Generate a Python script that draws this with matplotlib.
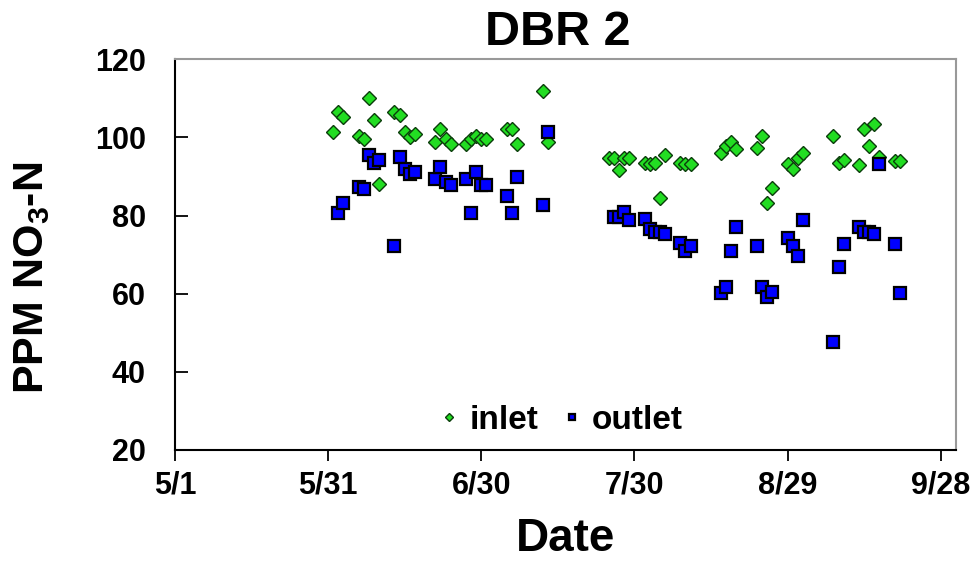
import matplotlib
matplotlib.use('Agg')
import matplotlib.pyplot as plt
import pandas as pd

YEAR = '2001'

inlet_dates = ['6/1', '6/2', '6/3', '6/6', '6/7', '6/8', '6/9', '6/10', '6/13', '6/14',
               '6/15', '6/16', '6/17', '6/21', '6/22', '6/23', '6/24', '6/27', '6/28', '6/29',
               '6/30', '7/1', '7/5', '7/6', '7/7', '7/12', '7/13',
               '7/25', '7/26', '7/27', '7/28', '7/29', '8/1', '8/2', '8/3', '8/4', '8/5',
               '8/8', '8/9', '8/10', '8/16', '8/17', '8/18', '8/19', '8/23', '8/24', '8/25',
               '8/26', '8/29', '8/30', '8/31', '9/1', '9/7', '9/8', '9/9', '9/12', '9/13',
               '9/14', '9/15', '9/16', '9/19', '9/20']
inlet_ppm = [101.5, 106.4, 105.2, 100.4, 99.6, 110.2, 104.5, 88.1, 106.4, 105.7,
             101.5, 100.2, 100.9, 98.9, 102.1, 99.6, 98.3, 98.3, 99.6, 100.4,
             99.6, 99.6, 102.1, 102.1, 98.3, 112.0, 98.9,
             94.7, 94.7, 91.7, 94.7, 94.7, 93.5, 93.1, 93.5, 84.4, 95.5,
             93.5, 93.1, 93.1, 95.9, 97.8, 98.9, 97.0, 97.2, 100.4, 83.3,
             87.1, 93.1, 91.8, 94.7, 95.9, 100.4, 93.4, 94.2, 93.0, 102.1,
             97.9, 103.4, 94.9, 94.0, 94.0]

outlet_dates = ['6/2', '6/3', '6/6', '6/7', '6/8', '6/9', '6/10', '6/13', '6/14', '6/15',
                '6/16', '6/17', '6/21', '6/22', '6/23', '6/24', '6/27', '6/28', '6/29', '6/30',
                '7/1', '7/5', '7/6', '7/7', '7/12', '7/13',
                '7/26', '7/27', '7/28', '7/29', '8/1', '8/2', '8/3', '8/4', '8/5', '8/8',
                '8/9', '8/10', '8/16', '8/17', '8/18', '8/19', '8/23', '8/24', '8/25', '8/26',
                '8/29', '8/30', '8/31', '9/1', '9/7', '9/8', '9/9', '9/12', '9/13', '9/14',
                '9/15', '9/16', '9/19', '9/20']
outlet_ppm = [80.6, 83.3, 87.2, 86.7, 95.5, 93.5, 94.2, 72.2, 94.9, 91.8,
              90.6, 91.2, 89.4, 92.4, 88.7, 87.7, 89.4, 80.7, 91.2, 87.7,
              87.7, 85.1, 80.7, 90.0, 82.7, 101.5,
              79.6, 79.6, 81.0, 78.9, 79.1, 76.5, 75.9, 75.9, 75.3, 72.9,
              71.0, 72.2, 60.3, 61.8, 71.0, 77.2, 72.2, 61.8, 59.2, 60.5,
              74.2, 72.2, 69.7, 78.9, 47.6, 66.8, 72.7, 77.2, 75.9, 75.9,
              75.3, 93.1, 72.7, 60.1]

tick_dates = ['5/1', '5/31', '6/30', '7/30', '8/29', '9/28']


def to_dt(days):
    return pd.to_datetime([YEAR + '/' + d for d in days], format='%Y/%m/%d')


plt.rcParams['font.family'] = ['Liberation Sans', 'DejaVu Sans']
plt.rcParams['mathtext.fontset'] = 'custom'
plt.rcParams['mathtext.bf'] = 'Liberation Sans:bold'

fig = plt.figure(figsize=(9.77, 5.61), dpi=100)
ax = fig.add_axes([0.1791, 0.1979, 0.7994, 0.6964])

ax.plot(to_dt(inlet_dates), inlet_ppm, linestyle='none', marker='D', markersize=7.2,
        markerfacecolor='#22dd22', markeredgecolor='#0b3d0b', markeredgewidth=1.0,
        label='inlet')
ax.plot(to_dt(outlet_dates), outlet_ppm, linestyle='none', marker='s', markersize=8,
        markerfacecolor='#0000ff', markeredgecolor='black', markeredgewidth=1.6,
        label='outlet')

ticks = to_dt(tick_dates)
ax.set_xlim(ticks[0], ticks[0] + pd.Timedelta(days=153))
ax.set_xticks(ticks)
ax.set_xticklabels(tick_dates, fontweight='bold')
ax.set_ylim(20, 120)
ax.set_yticks(range(20, 121, 20))
ax.set_yticklabels([str(v) for v in range(20, 121, 20)], fontweight='bold')

ax.tick_params(axis='x', direction='out', length=8, width=1.3, labelsize=22, pad=7)
ax.tick_params(axis='y', direction='in', length=9, width=1.3, labelsize=22, pad=21)
for s in ['left', 'bottom']:
    ax.spines[s].set_linewidth(1.5)
for s in ['top', 'right']:
    ax.spines[s].set_color('#999999')
    ax.spines[s].set_linewidth(1.5)

ax.set_title('DBR 2', fontsize=35, fontweight='bold', pad=10, x=0.49)
ax.set_xlabel('Date', fontsize=33, fontweight='bold', labelpad=12)
ax.set_ylabel(r'PPM NO$_\mathbf{3}$-N', fontsize=31, fontweight='bold')
ax.yaxis.set_label_coords(-0.157, 0.44)

leg = ax.legend(loc='lower center', bbox_to_anchor=(0.49, -0.04), ncol=2, frameon=False,
                prop={'size': 24, 'weight': 'bold'}, markerscale=0.55,
                handletextpad=0.1, columnspacing=0.5, handlelength=1.0)

fig.savefig('out.png', dpi=100)
